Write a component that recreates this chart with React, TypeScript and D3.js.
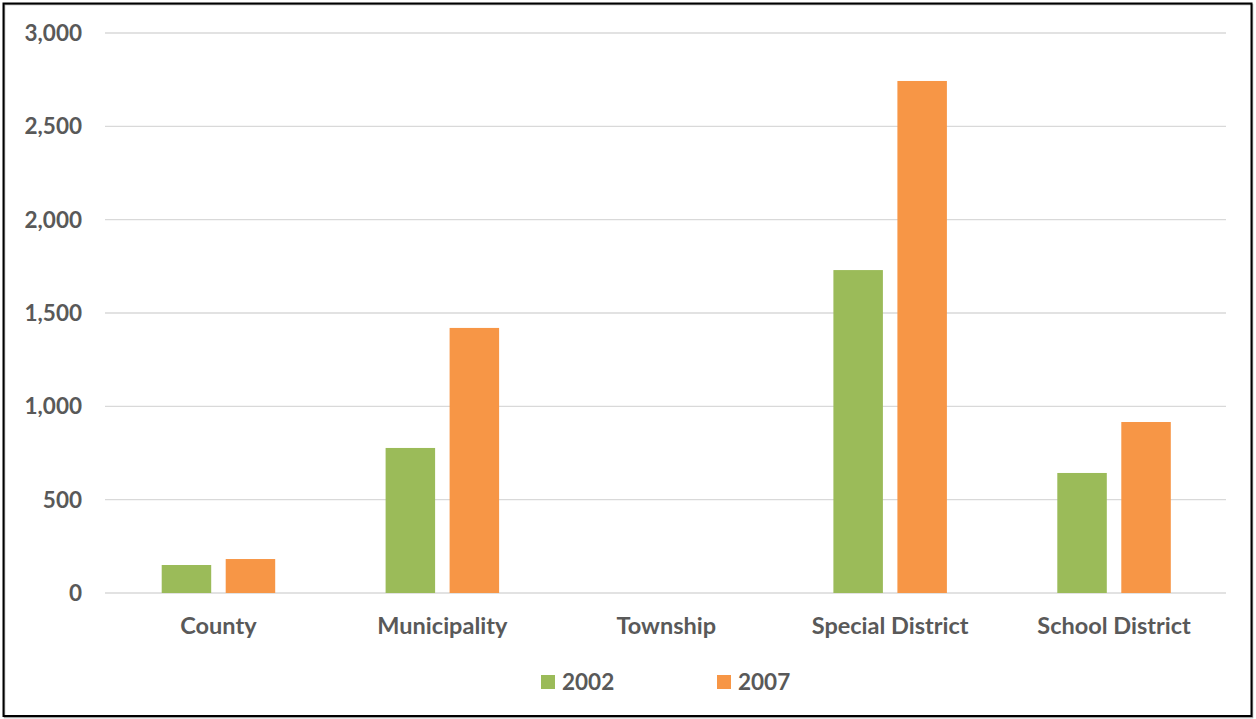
import React from "react";
import * as d3 from "d3";

const categories = ["County", "Municipality", "Township", "Special District", "School District"];
const seriesNames = ["2002", "2007"];
const values2002 = [150, 777, 0, 1730, 643];
const values2007 = [182, 1420, 0, 2743, 916];
const yTicks = [0, 500, 1000, 1500, 2000, 2500, 3000];
const colors = ["#9BBB59", "#F79646"];

const W = 1256;
const H = 719;
const FONT = "Lato, 'Open Sans', sans-serif";
const TEXT = "#595959";

export default function App() {
  const left = 105, right = 1226, top = 33, bottom = 593;
  const y = d3.scaleLinear().domain([0, 3000]).range([bottom, top]);
  const x0 = d3.scaleBand<string>().domain(categories).range([left + 1.5, right]).padding(0);
  const groupW = 113.5;
  const x1 = d3.scaleBand<string>().domain(seriesNames).range([0, groupW]).paddingInner(14.5 / 64).paddingOuter(0);
  const seriesVals = [values2002, values2007];
  const fmt = d3.format(",");

  return (
    <svg width={W} height={H} style={{ position: "absolute", left: 0, top: 0, background: "#fff" }}>
      <rect x={0} y={0} width={W} height={H} fill="#fff" />
      {/* border */}
      <rect x={4.5} y={4.5} width={1248} height={713} fill="none" stroke="#a6a6a6" strokeWidth={1.5} />
      <rect x={3.5} y={3.5} width={1248} height={712.5} fill="none" stroke="#000" strokeWidth={2} />
      {/* gridlines */}
      {yTicks.map((t) => (
        <line key={t} x1={left} x2={right} y1={y(t)} y2={y(t)} stroke="#d9d9d9" strokeWidth={1.3} />
      ))}
      {/* y labels */}
      {yTicks.map((t) => (
        <text key={"l" + t} x={82} y={y(t)} dy="0.35em" textAnchor="end" fontFamily={FONT} fontWeight="bold" fontSize={22.5} fill={TEXT}>
          {fmt(t)}
        </text>
      ))}
      {/* bars */}
      {categories.map((c, i) => {
        const gx = x0(c)! + (x0.bandwidth() - groupW) / 2;
        return seriesNames.map((s, j) => {
          const v = seriesVals[j][i];
          if (!v) return null;
          return (
            <rect key={c + s} x={gx + x1(s)!} y={y(v)} width={x1.bandwidth()} height={y(0) - y(v)} fill={colors[j]} />
          );
        });
      })}
      {/* category labels */}
      {categories.map((c) => (
        <text key={"c" + c} x={x0(c)! + x0.bandwidth() / 2} y={626} dy="0.35em" textAnchor="middle" fontFamily={FONT} fontWeight="bold" fontSize={23.5} fill={TEXT}>
          {c}
        </text>
      ))}
      {/* legend */}
      {seriesNames.map((s, j) => {
        const lx = j === 0 ? 541 : 717;
        return (
          <g key={"lg" + s}>
            <rect x={lx} y={675} width={14} height={14} fill={colors[j]} />
            <text x={lx + 21} y={682} dy="0.35em" fontFamily={FONT} fontWeight="bold" fontSize={22.5} fill={TEXT}>
              {s}
            </text>
          </g>
        );
      })}
    </svg>
  );
}
